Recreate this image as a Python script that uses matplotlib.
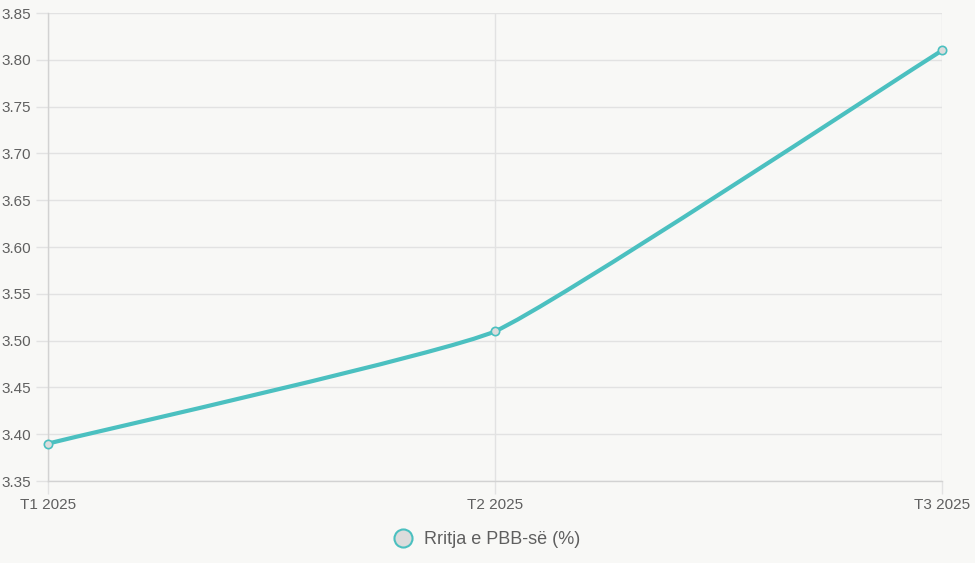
import numpy as np
import matplotlib.pyplot as plt
from matplotlib.path import Path
from matplotlib.patches import PathPatch
from matplotlib.lines import Line2D

plt.rcParams['font.family'] = ['Liberation Sans', 'DejaVu Sans']

labels = ["T1 2025", "T2 2025", "T3 2025"]
values = [3.39, 3.51, 3.81]
series_name = "Rritja e PBB-së (%)"

teal = '#4bc0c0'
grid_c = '#e2e2e2'
axis_c = '#d2d2d2'
text_c = '#5f5f5f'
bg = '#f8f8f6'

fig = plt.figure(figsize=(9.75, 5.63), dpi=100, facecolor=bg)
ax = fig.add_axes([0.0492, 0.1456, 0.917, 0.8313])
ax.set_facecolor(bg)

x = np.arange(len(values))
yt = np.arange(3.35, 3.851, 0.05)
ax.set_xlim(0, len(values) - 1)
ax.set_ylim(3.35, 3.85)
ax.set_yticks(yt)
ax.set_yticklabels(["%.2f" % v for v in yt])
ax.set_xticks(x)
ax.set_xticklabels(labels)
ax.grid(True, color=grid_c, lw=1)
ax.set_axisbelow(True)
for s in ['top', 'right']:
    ax.spines[s].set_visible(False)
for s in ['left', 'bottom']:
    ax.spines[s].set_color(axis_c)
    ax.spines[s].set_linewidth(1)
ax.tick_params(colors=grid_c, labelcolor=text_c, labelsize=11, length=9, width=1, pad=3)

# smooth curve like chart.js, control points in pixel space
fig.canvas.draw()
pts = ax.transData.transform(np.column_stack([x, values]))
t = 0.12
n = len(pts)
verts = [pts[0]]
codes = [Path.MOVETO]
cps = []
for i in range(n):
    prev = pts[max(i - 1, 0)]
    cur = pts[i]
    nxt = pts[min(i + 1, n - 1)]
    d01 = np.hypot(*(cur - prev))
    d12 = np.hypot(*(nxt - cur))
    s01 = d01 / (d01 + d12) if d01 + d12 else 0
    s12 = d12 / (d01 + d12) if d01 + d12 else 0
    cps.append((cur - t * s01 * (nxt - prev), cur + t * s12 * (nxt - prev)))
for i in range(1, n):
    verts += [cps[i - 1][1], cps[i][0], pts[i]]
    codes += [Path.CURVE4] * 3
path = Path(ax.transData.inverted().transform(np.array(verts)), codes)
ax.add_patch(PathPatch(path, fill=False, edgecolor=teal, lw=3, zorder=3,
                       capstyle='round', joinstyle='round'))
ax.plot(x, values, 'o', ms=6, mfc='#dcdcdc', mec=teal, mew=1.2, zorder=4, clip_on=False)

h = Line2D([], [], marker='o', ls='', ms=13, mfc='#dcdcdc', mec=teal, mew=1.5)
fig.legend([h], [series_name], loc='center', bbox_to_anchor=(0.495, 0.041),
           frameon=False, labelcolor=text_c, prop={'size': 13},
           handletextpad=0.2)

fig.savefig('out.png', dpi=100, facecolor=bg)
